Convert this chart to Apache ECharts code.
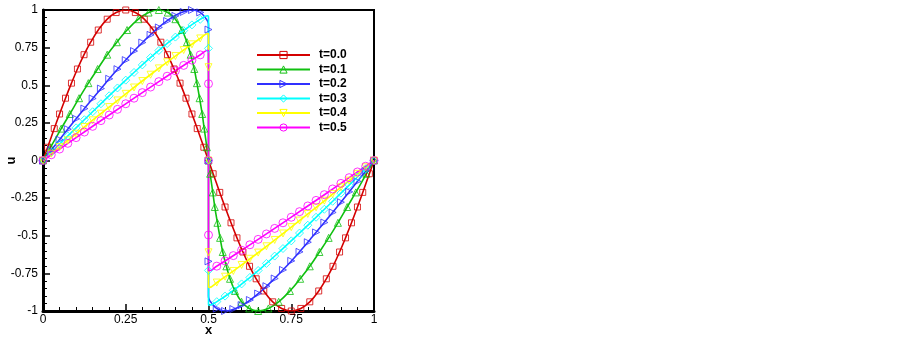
<!DOCTYPE html>
<html>
<head>
<meta charset="utf-8">
<script src="https://cdn.jsdelivr.net/npm/echarts@6/dist/echarts.min.js"></script>
<style>
  html, body { margin: 0; padding: 0; background: #fff; }
  #chart { width: 903px; height: 337px; }
</style>
</head>
<body>
<div id="chart"></div>
<script>
// legend names
var names = ['t=0.0', 't=0.1', 't=0.2', 't=0.3', 't=0.4', 't=0.5'];
var xTicks = [0, 0.25, 0.5, 0.75, 1];

// t=0.0 (smooth, line and markers share the points)
var u00 = [[0,0],[0.014,0.088],[0.034,0.212],[0.05,0.309],[0.068,0.414],[0.086,0.514],[0.104,0.608],[0.124,0.703],[0.144,0.786],[0.167,0.867],[0.194,0.939],[0.221,0.983],[0.25,1],[0.279,0.983],[0.306,0.939],[0.333,0.867],[0.356,0.786],[0.376,0.703],[0.396,0.608],[0.414,0.514],[0.432,0.414],[0.45,0.309],[0.466,0.212],[0.486,0.088],[0.5,0],
  [0.514,-0.088],[0.534,-0.212],[0.55,-0.309],[0.568,-0.414],[0.586,-0.514],[0.604,-0.608],[0.624,-0.703],[0.644,-0.786],[0.667,-0.867],[0.694,-0.939],[0.721,-0.983],[0.75,-1],[0.779,-0.983],[0.806,-0.939],[0.833,-0.867],[0.856,-0.786],[0.876,-0.703],[0.896,-0.608],[0.914,-0.514],[0.932,-0.414],[0.95,-0.309],[0.966,-0.212],[0.986,-0.088],[1,0]];

// t=0.1
var u01 = [[0,0],[0.023,0.088],[0.055,0.212],[0.081,0.309],[0.109,0.414],[0.137,0.514],[0.165,0.608],[0.194,0.703],[0.223,0.786],[0.254,0.867],[0.288,0.939],[0.319,0.983],[0.35,1],[0.377,0.983],[0.400,0.939],[0.420,0.867],[0.435,0.786],[0.446,0.703],[0.457,0.608],[0.465,0.514],[0.473,0.414],[0.481,0.309],[0.487,0.212],[0.495,0.088],[0.5,0],
  [0.505,-0.088],[0.513,-0.212],[0.519,-0.309],[0.527,-0.414],[0.535,-0.514],[0.543,-0.608],[0.554,-0.703],[0.565,-0.786],[0.580,-0.867],[0.600,-0.939],[0.623,-0.983],[0.65,-1],[0.681,-0.983],[0.712,-0.939],[0.746,-0.867],[0.777,-0.786],[0.806,-0.703],[0.835,-0.608],[0.863,-0.514],[0.891,-0.414],[0.919,-0.309],[0.945,-0.212],[0.977,-0.088],[1,0]];

// t=0.2
var line02 = [[0,0],[0.0316,0.088],[0.0764,0.212],[0.1118,0.309],[0.1509,0.414],[0.1889,0.514],[0.2256,0.608],[0.2645,0.703],[0.3012,0.786],[0.3404,0.867],[0.3818,0.939],[0.4177,0.983],[0.45,1],[0.4757,0.983],[0.4938,0.939],[0.4985,0.92],[0.5,0.90],
  [0.5,-0.90],[0.5015,-0.92],[0.5062,-0.939],[0.5243,-0.983],[0.55,-1],[0.5823,-0.983],[0.6182,-0.939],[0.6596,-0.867],[0.6988,-0.786],[0.7355,-0.703],[0.7744,-0.608],[0.8111,-0.514],[0.8491,-0.414],[0.8882,-0.309],[0.9236,-0.212],[0.9684,-0.088],[1,0]];
var mark02 = [[0,0],[0.025,0.070],[0.05,0.139],[0.075,0.208],[0.1,0.277],[0.125,0.345],[0.15,0.412],[0.175,0.478],[0.2,0.543],[0.225,0.607],[0.25,0.667],[0.275,0.727],[0.3,0.784],[0.325,0.835],[0.35,0.884],[0.375,0.927],[0.4,0.961],[0.425,0.987],[0.45,1],[0.475,0.984],
  [0.5,0.87],[0.5,0],[0.5,-0.67],
  [0.525,-0.984],[0.55,-1],[0.575,-0.987],[0.6,-0.961],[0.625,-0.927],[0.65,-0.884],[0.675,-0.835],[0.7,-0.784],[0.725,-0.727],[0.75,-0.667],[0.775,-0.607],[0.8,-0.543],[0.825,-0.478],[0.85,-0.412],[0.875,-0.345],[0.9,-0.277],[0.925,-0.208],[0.95,-0.139],[0.975,-0.070],[1,0]];

// t=0.3
var line03 = [[0,0],[0.0403,0.088],[0.0976,0.212],[0.1427,0.309],[0.1923,0.414],[0.2403,0.514],[0.2864,0.608],[0.3348,0.703],[0.3799,0.786],[0.4271,0.867],[0.4756,0.939],[0.4975,0.962],[0.5,0.955],
  [0.5,-0.955],[0.5025,-0.962],[0.5244,-0.939],[0.5729,-0.867],[0.6201,-0.786],[0.6652,-0.703],[0.7136,-0.608],[0.7597,-0.514],[0.8077,-0.414],[0.8573,-0.309],[0.9024,-0.212],[0.9597,-0.088],[1,0]];
var mark03 = [[0,0],[0.025,0.055],[0.05,0.109],[0.075,0.163],[0.1,0.217],[0.125,0.271],[0.15,0.324],[0.175,0.377],[0.2,0.430],[0.225,0.482],[0.25,0.534],[0.275,0.585],[0.3,0.635],[0.325,0.684],[0.35,0.731],[0.375,0.777],[0.4,0.820],[0.425,0.863],[0.45,0.901],[0.475,0.938],
  [0.5,0.745],[0.5,0],[0.5,-0.73],
  [0.525,-0.938],[0.55,-0.901],[0.575,-0.863],[0.6,-0.820],[0.625,-0.777],[0.65,-0.731],[0.675,-0.684],[0.7,-0.635],[0.725,-0.585],[0.75,-0.534],[0.775,-0.482],[0.8,-0.430],[0.825,-0.377],[0.85,-0.324],[0.875,-0.271],[0.9,-0.217],[0.925,-0.163],[0.95,-0.109],[0.975,-0.055],[1,0]];

// t=0.4
var line04 = [[0,0],[0.0876,0.156],[0.1736,0.309],[0.2566,0.454],[0.3351,0.588],[0.4078,0.707],[0.4736,0.809],[0.4985,0.844],[0.5,0.838],
  [0.5,-0.838],[0.5015,-0.844],[0.5264,-0.809],[0.5922,-0.707],[0.6649,-0.588],[0.7434,-0.454],[0.8264,-0.309],[0.9124,-0.156],[1,0]];
var mark04 = [[0,0],[0.025,0.045],[0.05,0.089],[0.075,0.134],[0.1,0.178],[0.125,0.223],[0.15,0.267],[0.175,0.311],[0.2,0.355],[0.225,0.399],[0.25,0.443],[0.275,0.485],[0.3,0.528],[0.325,0.570],[0.35,0.612],[0.375,0.653],[0.4,0.694],[0.425,0.734],[0.45,0.772],[0.475,0.811],
  [0.5,0.62],[0.5,0],[0.5,-0.61],
  [0.525,-0.811],[0.55,-0.772],[0.575,-0.734],[0.6,-0.694],[0.625,-0.653],[0.65,-0.612],[0.675,-0.570],[0.7,-0.528],[0.725,-0.485],[0.75,-0.443],[0.775,-0.399],[0.8,-0.355],[0.825,-0.311],[0.85,-0.267],[0.875,-0.223],[0.9,-0.178],[0.925,-0.134],[0.95,-0.089],[0.975,-0.045],[1,0]];

// t=0.5
var line05 = [[0,0],[0.1,0.152],[0.2045,0.309],[0.2752,0.414],[0.3432,0.514],[0.408,0.608],[0.4754,0.703],[0.4985,0.733],[0.5,0.727],
  [0.5,-0.727],[0.5015,-0.733],[0.5246,-0.703],[0.592,-0.608],[0.6568,-0.514],[0.7248,-0.414],[0.7955,-0.309],[0.9,-0.152],[1,0]];
var mark05 = [[0,0],[0.025,0.038],[0.05,0.076],[0.075,0.114],[0.1,0.152],[0.125,0.189],[0.15,0.227],[0.175,0.265],[0.2,0.302],[0.225,0.340],[0.25,0.377],[0.275,0.414],[0.3,0.451],[0.325,0.488],[0.35,0.524],[0.375,0.560],[0.4,0.596],[0.425,0.632],[0.45,0.667],[0.475,0.702],
  [0.5,0.51],[0.5,0],[0.5,-0.495],
  [0.525,-0.702],[0.55,-0.667],[0.575,-0.632],[0.6,-0.596],[0.625,-0.560],[0.65,-0.524],[0.675,-0.488],[0.7,-0.451],[0.725,-0.414],[0.75,-0.377],[0.775,-0.340],[0.8,-0.302],[0.825,-0.265],[0.85,-0.227],[0.875,-0.189],[0.9,-0.152],[0.925,-0.114],[0.95,-0.076],[0.975,-0.038],[1,0]];

var lines = [u00, u01, line02, line03, line04, line05];
var marks = [u00, u01, mark02, mark03, mark04, mark05];
var colors = ['#d40000', '#10c010', '#3030ff', '#00ffff', '#ffff00', '#ff00ff'];
var symbols = ['rect', 'triangle', 'path://M0,0 L10,5 L0,10 Z', 'diamond', 'path://M0,0 L10,0 L5,10 Z', 'circle'];
var sizes = [6, 7, 7, 8, 7, 8];

var font = 'Liberation Sans, Arial, sans-serif';
var series = [];
names.forEach(function (n, i) {
  var mk = {
    color: 'rgba(0,0,0,0)',
    borderColor: colors[i],
    borderWidth: 1
  };
  series.push({
    name: n,
    type: 'line',
    data: lines[i],
    smooth: 0.4,
    symbol: symbols[i],
    symbolSize: sizes[i],
    showSymbol: false,
    lineStyle: { color: colors[i], width: 1.6 },
    itemStyle: mk,
    z: 2
  });
  series.push({
    name: n,
    type: 'scatter',
    data: marks[i],
    symbol: symbols[i],
    symbolSize: sizes[i],
    itemStyle: mk,
    z: 3
  });
});

var chart = echarts.init(document.getElementById('chart'), null, { renderer: 'canvas' });
chart.setOption({
  animation: false,
  grid: {
    left: 43, right: 529, top: 10, bottom: 26,
    outerBoundsMode: 'none',
    containLabel: false,
    show: true, borderColor: '#000', borderWidth: 2
  },
  legend: {
    orient: 'vertical',
    left: 251,
    top: 44,
    itemWidth: 53,
    itemHeight: 9,
    itemGap: 2.5,
    data: names,
    lineStyle: { width: 2 },
    itemStyle: { color: 'rgba(0,0,0,0)', borderWidth: 1 },
    textStyle: { fontFamily: font, fontSize: 12, fontWeight: 'bold', color: '#000', padding: [0, 0, 0, 4] }
  },
  xAxis: {
    type: 'value',
    min: xTicks[0],
    max: xTicks[xTicks.length - 1],
    interval: 0.25,
    name: 'x',
    nameLocation: 'middle',
    nameGap: 13,
    nameMoveOverlap: false,
    nameTextStyle: { fontFamily: font, fontSize: 13, fontWeight: 'bold', color: '#000' },
    splitLine: { show: false },
    axisLine: { onZero: false, lineStyle: { color: '#000', width: 3 } },
    axisTick: { inside: true, length: 7, lineStyle: { color: '#000', width: 1.5 } },
    minorTick: { show: true, splitNumber: 5, length: 4, lineStyle: { color: '#000', width: 1 } },
    axisLabel: { color: '#000', fontFamily: font, fontSize: 12, margin: 3 }
  },
  yAxis: {
    type: 'value',
    min: -1,
    max: 1,
    interval: 0.25,
    name: 'u',
    nameLocation: 'middle',
    nameRotate: 90,
    nameGap: 25,
    nameMoveOverlap: false,
    nameTextStyle: { fontFamily: font, fontSize: 13, fontWeight: 'bold', color: '#000' },
    splitLine: { show: false },
    axisLine: { onZero: false, lineStyle: { color: '#000', width: 3 } },
    axisTick: { inside: true, length: 7, lineStyle: { color: '#000', width: 1.5 } },
    minorTick: { show: true, splitNumber: 5, length: 4, lineStyle: { color: '#000', width: 1 } },
    axisLabel: { color: '#000', fontFamily: font, fontSize: 12, margin: 5 }
  },
  series: series
});
</script>
</body>
</html>
